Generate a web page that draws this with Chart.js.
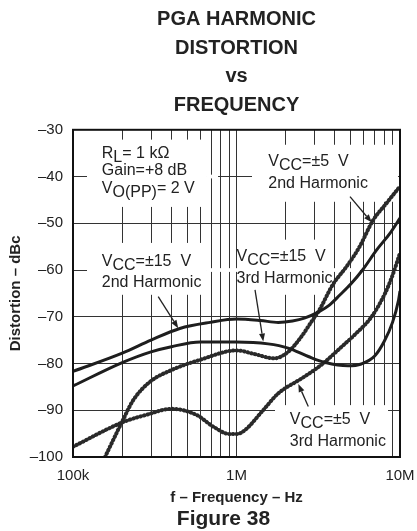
<!DOCTYPE html>
<html>
<head>
<meta charset="utf-8">
<script src="https://cdn.jsdelivr.net/npm/chart.js@4.4.1/dist/chart.umd.min.js"></script>
<style>
  html, body { margin: 0; padding: 0; background: #fff; }
  canvas { display: block; }
</style>
</head>
<body>
<canvas id="myChart" width="417" height="531"></canvas>
<script>
// ---- data (f in Hz, distortion in dBc) ----
const vcc15Harm2Freq = [1e5, 2e5, 3e5, 4.5e5, 6.9e5, 1.0e6, 1.4e6, 1.8e6, 2.2e6, 2.6e6, 3.2e6, 3.7e6, 4.3e6, 5.0e6, 5.9e6, 7.2e6, 8.7e6, 1e7];
const vcc15Harm2Db = [-81.7, -77.8, -75.0, -72.5, -71.2, -70.5, -70.8, -71.2, -70.9, -70.3, -68.9, -67.5, -65.3, -63.0, -60.0, -55.7, -52.1, -48.9];

const vcc15Harm3Freq = [1e5, 2e5, 3e5, 4e5, 6e5, 1e6, 1.56e6, 2.07e6, 2.75e6, 3.5e6, 4.8e6, 5.8e6, 7.0e6, 8.0e6, 9.0e6, 9.8e6, 1e7];
const vcc15Harm3Db = [-84.8, -79.8, -77.5, -76.4, -75.4, -75.4, -75.8, -76.7, -78.5, -79.8, -80.5, -80.1, -78.4, -75.3, -71.2, -66.4, -64.5];

const vcc5Harm2Freq = [1.57e5, 2e5, 2.34e5, 2.96e5, 4e5, 6e5, 1e6, 1.3e6, 1.7e6, 2.07e6, 2.5e6, 2.88e6, 3.17e6, 3.9e6, 4.7e6, 5.6e6, 6.86e6, 8.27e6, 1e7];
const vcc5Harm2Db = [-100, -92.4, -87.8, -83.9, -81.4, -79.2, -77.2, -78.0, -78.9, -77.5, -74.2, -71.0, -68.9, -63.0, -59.3, -55.3, -49.3, -45.7, -42.1];

const vcc5Harm3Freq = [1e5, 2e5, 2.8e5, 4e5, 5.7e5, 7.2e5, 9.1e5, 1e6, 1.13e6, 1.43e6, 1.8e6, 2.5e6, 3.3e6, 4.4e6, 5.3e6, 6.7e6, 8.1e6, 8.9e6, 1e7];
const vcc5Harm3Db = [-97.8, -92.6, -91.0, -89.7, -91.0, -93.5, -95.1, -95.1, -94.2, -90.3, -86.4, -83.2, -80.3, -76.4, -73.8, -70.0, -65.0, -61.6, -56.4];

const decades = [1e5, 1e6, 1e7];
const decadeLabels = ['100k', '1M', '10M'];
const titleLines = ['PGA HARMONIC', 'DISTORTION', 'vs', 'FREQUENCY'];

const FONT = "'Liberation Sans', Arial, Helvetica, sans-serif";
const INK = '#222';

// white boxes behind the labels (grid is broken there)
const masks = [
  { f: [1.218e5, 6.51e5], db: [-32.1, -46.5] },
  { f: [1.218e5, 6.51e5], db: [-54.2, -65.3] },
  { f: [1.021e6, 3.785e6], db: [-53.5, -65.3] },
  { f: [1.244e6, 9.72e6], db: [-33.2, -45.4] },
  { f: [1.72e6, 8.45e6], db: [-88.9, -99.8] },
  { f: [6.51e5, 1.021e6], db: [-59.6, -60.4] },
  { f: [3.785e6, 5.69e6], db: [-59.6, -60.4] },
  { f: [6.51e5, 7.71e5], db: [-39.6, -40.4] }
];

const notes = [
  { f: 1.5e5, db: -36.0, gap: 17.5, lines: [[['R', 0], ['L', 1], ['= 1 k\u03A9', 0]], [['Gain=+8 dB', 0]], [['V', 0], ['O(PP)', 1], ['= 2 V', 0]]] },
  { f: 1.5e5, db: -59.2, gap: 21, lines: [[['V', 0], ['CC', 1], ['=\u00B115  V', 0]], [['2nd Harmonic', 0]]] },
  { f: 1.0e6, db: -58.0, gap: 22, lines: [[['V', 0], ['CC', 1], ['=\u00B115  V', 0]], [['3rd Harmonic', 0]]] },
  { f: 1.565e6, db: -37.85, gap: 22, lines: [[['V', 0], ['CC', 1], ['=\u00B15  V', 0]], [['2nd Harmonic', 0]]] },
  { f: 2.12e6, db: -92.9, gap: 22, lines: [[['V', 0], ['CC', 1], ['=\u00B15  V', 0]], [['3rd Harmonic', 0]]] }
];

const arrows = [
  { from: [3.32e5, -65.7], to: [4.40e5, -72.45] },
  { from: [1.298e6, -64.25], to: [1.458e6, -75.3] },
  { from: [4.945e6, -44.3], to: [6.71e6, -49.8] },
  { from: [2.749e6, -89.2], to: [2.388e6, -84.4] }
];

const toPoints = (freqs, dbs) => freqs.map((f, i) => ({ x: f, y: dbs[i] }));

const solidLine = {
  borderColor: '#1e1e1e',
  borderWidth: 3,
  pointRadius: 0,
  cubicInterpolationMode: 'monotone',
  fill: false
};

const beadLine = {
  borderColor: '#2a2a2a',
  borderWidth: 4,
  borderDash: [0.5, 3.2],
  borderCapStyle: 'round',
  pointRadius: 0,
  cubicInterpolationMode: 'monotone',
  fill: false
};

const drawRich = (ctx, parts, x, y) => {
  parts.forEach(([txt, sub]) => {
    ctx.fillText(txt, x, y + (sub ? 4 : 0));
    x += ctx.measureText(txt).width;
  });
};

const annotations = {
  id: 'annotations',
  beforeDatasetsDraw(chart) {
    const { ctx, scales: { x, y } } = chart;
    ctx.save();
    ctx.fillStyle = '#fff';
    masks.forEach(m => {
      const x0 = x.getPixelForValue(m.f[0]);
      const x1 = x.getPixelForValue(m.f[1]);
      const y0 = y.getPixelForValue(m.db[0]);
      const y1 = y.getPixelForValue(m.db[1]);
      ctx.fillRect(x0, y0, x1 - x0, y1 - y0);
    });
    ctx.restore();
  },
  afterDatasetsDraw(chart) {
    const { ctx, scales: { x, y } } = chart;
    ctx.save();
    ctx.fillStyle = INK;
    ctx.strokeStyle = INK;
    ctx.font = '16px ' + FONT;
    ctx.textBaseline = 'alphabetic';
    ctx.textAlign = 'left';
    notes.forEach(n => {
      const px = x.getPixelForValue(n.f);
      const py = y.getPixelForValue(n.db);
      n.lines.forEach((line, i) => drawRich(ctx, line, px, py + i * n.gap));
    });

    ctx.lineWidth = 1.3;
    arrows.forEach(a => {
      const x0 = x.getPixelForValue(a.from[0]), y0 = y.getPixelForValue(a.from[1]);
      const x1 = x.getPixelForValue(a.to[0]), y1 = y.getPixelForValue(a.to[1]);
      const ang = Math.atan2(y1 - y0, x1 - x0);
      const head = 8, half = 3;
      const bx = x1 - head * Math.cos(ang), by = y1 - head * Math.sin(ang);
      ctx.beginPath();
      ctx.moveTo(x0, y0);
      ctx.lineTo(bx, by);
      ctx.stroke();
      ctx.beginPath();
      ctx.moveTo(x1, y1);
      ctx.lineTo(bx + half * Math.sin(ang), by - half * Math.cos(ang));
      ctx.lineTo(bx - half * Math.sin(ang), by + half * Math.cos(ang));
      ctx.closePath();
      ctx.fill();
    });
    ctx.restore();
  },
  afterDraw(chart) {
    const { ctx, chartArea: { left, right, top, bottom } } = chart;
    ctx.save();
    ctx.strokeStyle = '#111';
    ctx.lineWidth = 2;
    ctx.strokeRect(left, top, right - left, bottom - top);

    ctx.fillStyle = INK;
    ctx.font = 'bold 21px ' + FONT;
    ctx.textAlign = 'center';
    ctx.textBaseline = 'alphabetic';
    ctx.fillText('Figure 38', (left + right) / 2 - 13, bottom + 68);
    ctx.restore();
  }
};

Chart.defaults.font.family = FONT;
Chart.defaults.color = INK;

const config = {
  type: 'line',
  data: {
    datasets: [
      { label: 'VCC=±15 V 2nd Harmonic', data: toPoints(vcc15Harm2Freq, vcc15Harm2Db), ...solidLine },
      { label: 'VCC=±15 V 3rd Harmonic', data: toPoints(vcc15Harm3Freq, vcc15Harm3Db), ...solidLine },
      { label: 'VCC=±5 V 2nd Harmonic', data: toPoints(vcc5Harm2Freq, vcc5Harm2Db), ...beadLine },
      { label: 'VCC=±5 V 3rd Harmonic', data: toPoints(vcc5Harm3Freq, vcc5Harm3Db), ...beadLine }
    ]
  },
  options: {
    responsive: false,
    animation: false,
    devicePixelRatio: 1,
    layout: { padding: { left: 0, right: 17, top: 0, bottom: 24 } },
    plugins: {
      legend: { display: false },
      tooltip: { enabled: false },
      title: {
        display: true,
        fullSize: false,
        text: titleLines,
        color: INK,
        font: { size: 20, weight: 'bold', lineHeight: 1.435 },
        padding: { top: 5, bottom: 10 }
      }
    },
    scales: {
      x: {
        type: 'logarithmic',
        min: 1e5,
        max: 1e7,
        afterBuildTicks(scale) {
          const ticks = [];
          decades.forEach((d, i) => {
            if (i === decades.length - 1) {
              ticks.push({ value: d });
              return;
            }
            for (let m = 1; m <= 9; m++) ticks.push({ value: m * d });
          });
          scale.ticks = ticks;
        },
        afterFit(scale) {
          scale.height = 50;
          scale.paddingLeft = 0;
          scale.paddingRight = 0;
        },
        grid: { color: '#333', lineWidth: 1, drawTicks: false },
        border: { display: false },
        ticks: {
          autoSkip: false,
          maxRotation: 0,
          padding: 10,
          color: INK,
          font: { size: 15 },
          callback(value) {
            const i = decades.indexOf(value);
            return i >= 0 ? decadeLabels[i] : '';
          }
        },
        title: {
          display: true,
          text: 'f \u2013 Frequency \u2013 Hz',
          color: INK,
          font: { size: 15, weight: 'bold', lineHeight: 1 },
          padding: { top: 5, bottom: 2 }
        }
      },
      y: {
        min: -100,
        max: -30,
        afterFit(scale) {
          scale.width = 73;
          scale.paddingTop = 0;
          scale.paddingBottom = 0;
        },
        grid: { color: '#333', lineWidth: 1, drawTicks: false },
        border: { display: false },
        ticks: {
          stepSize: 10,
          padding: 10,
          color: INK,
          font: { size: 15 },
          callback: v => '\u2013' + Math.abs(v)
        },
        title: {
          display: true,
          text: 'Distortion \u2013 dBc',
          color: INK,
          font: { size: 15, weight: 'bold', lineHeight: 1 },
          padding: { top: 8.5, bottom: 0 }
        }
      }
    }
  },
  plugins: [annotations]
};

const myChart = new Chart(document.getElementById('myChart'), config);
</script>
</body>
</html>
